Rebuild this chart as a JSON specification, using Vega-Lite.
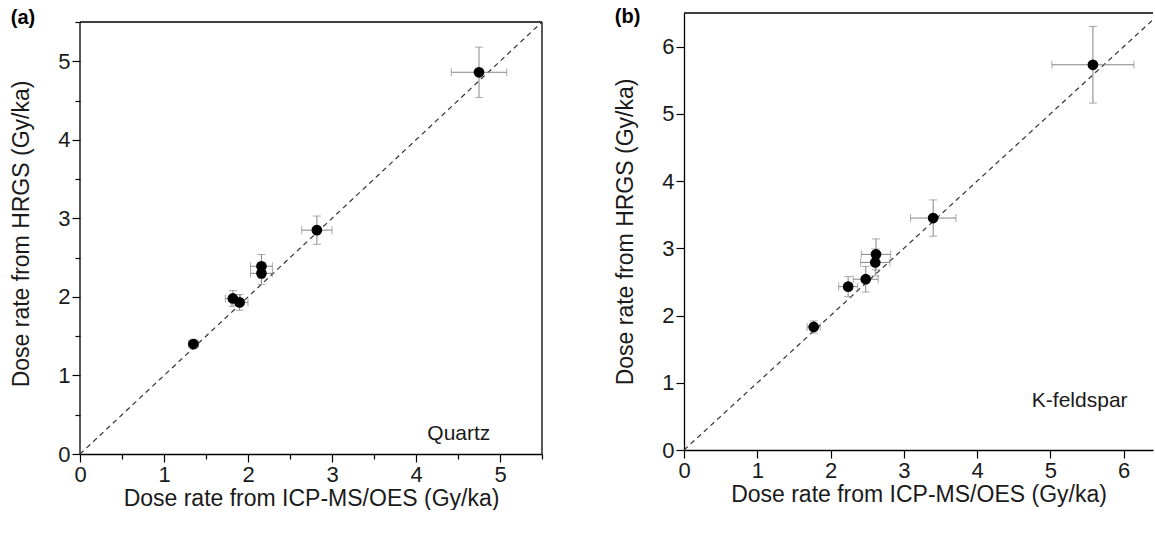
{
  "$schema": "https://vega.github.io/schema/vega-lite/v6.json",
  "background": "white",
  "padding": {"left": 10, "top": 7, "right": 0, "bottom": 0},
  "spacing": 71,
  "config": {
    "font": "Liberation Sans",
    "view": {"stroke": null},
    "axis": {
      "grid": false,
      "domainColor": "black",
      "domainWidth": 1.3,
      "tickColor": "black",
      "tickWidth": 1.2,
      "labelFont": "Liberation Sans",
      "labelFontSize": 22,
      "labelColor": "#1a1a1a",
      "labelFlush": false,
      "labelOverlap": false,
      "labelPadding": 2,
      "titleFont": "Liberation Sans",
      "titleFontSize": 23,
      "titleFontWeight": "normal",
      "titleColor": "#1a1a1a"
    },
    "axisX": {"titlePadding": 2},
    "axisY": {"titlePadding": 24},
    "title": {"fontSize": 20, "fontWeight": "bold", "anchor": "start", "frame": "bounds", "color": "black", "font": "Liberation Sans"}
  },
  "hconcat": [
    {
      "width": 462,
      "height": 441,
      "title": {"text": "(a)", "offset": -17},
      "data": {"values": [
        {"x": 1.35, "y": 1.40, "ex": 0.06, "ey": 0.06},
        {"x": 1.82, "y": 1.98, "ex": 0.09, "ey": 0.10},
        {"x": 1.90, "y": 1.93, "ex": 0.10, "ey": 0.10},
        {"x": 2.16, "y": 2.39, "ex": 0.13, "ey": 0.15},
        {"x": 2.16, "y": 2.30, "ex": 0.13, "ey": 0.14},
        {"x": 2.82, "y": 2.85, "ex": 0.18, "ey": 0.18},
        {"x": 4.75, "y": 4.86, "ex": 0.33, "ey": 0.32}
      ]},
      "layer": [
        {
          "data": {"values": [
            {"x": 0, "y": 5.5, "xEnd": 5.5, "yEnd": 5.5},
            {"x": 5.5, "y": 0, "xEnd": 5.5, "yEnd": 5.5},
            {"x": 0, "y": 0, "xEnd": 0, "yEnd": 5.5}
          ]},
          "mark": {"type": "rule", "color": "black", "strokeWidth": 1.3},
          "encoding": {
            "x": {
              "field": "x", "type": "quantitative",
              "title": "Dose rate from ICP-MS/OES (Gy/ka)",
              "scale": {"domain": [0, 5.5], "nice": false},
              "axis": {
                "title": "Dose rate from ICP-MS/OES (Gy/ka)",
                "values": [0, 0.5, 1, 1.5, 2, 2.5, 3, 3.5, 4, 4.5, 5, 5.5],
                "labelExpr": "datum.value % 1 === 0 ? format(datum.value, 'd') : ''",
                "tickSize": {"condition": {"test": "datum.value % 1 === 0", "value": 8}, "value": 5}
              }
            },
            "y": {
              "field": "y", "type": "quantitative",
              "title": "Dose rate from HRGS (Gy/ka)",
              "scale": {"domain": [0, 5.6145], "nice": false},
              "axis": {
                "title": "Dose rate from HRGS (Gy/ka)",
                "domain": false,
                "values": [0, 0.5, 1, 1.5, 2, 2.5, 3, 3.5, 4, 4.5, 5, 5.5],
                "labelExpr": "datum.value % 1 === 0 ? format(datum.value, 'd') : ''",
                "tickSize": {"condition": {"test": "datum.value % 1 === 0", "value": 8}, "value": 5}
              }
            },
            "x2": {"field": "xEnd"},
            "y2": {"field": "yEnd"}
          }
        },
        {
          "data": {"values": [{"x": 0, "y": 0, "xEnd": 5.5, "yEnd": 5.5}]},
          "mark": {"type": "rule", "strokeDash": [5, 4], "color": "#333333", "strokeWidth": 1.2},
          "encoding": {
            "x": {"field": "x", "type": "quantitative", "title": "Dose rate from ICP-MS/OES (Gy/ka)", "scale": {"domain": [0, 5.5], "nice": false}},
            "y": {"field": "y", "type": "quantitative", "title": "Dose rate from HRGS (Gy/ka)", "scale": {"domain": [0, 5.6145], "nice": false}},
            "x2": {"field": "xEnd"},
            "y2": {"field": "yEnd"}
          }
        },
        {
          "mark": {"type": "errorbar", "ticks": {"size": 8}, "color": "#858585", "thickness": 1},
          "encoding": {
            "x": {"field": "x", "type": "quantitative", "title": "Dose rate from ICP-MS/OES (Gy/ka)", "scale": {"domain": [0, 5.5], "nice": false}},
            "xError": {"field": "ex"},
            "y": {"field": "y", "type": "quantitative", "title": "Dose rate from HRGS (Gy/ka)", "scale": {"domain": [0, 5.6145], "nice": false}}
          }
        },
        {
          "mark": {"type": "errorbar", "ticks": {"size": 8}, "color": "#858585", "thickness": 1},
          "encoding": {
            "x": {"field": "x", "type": "quantitative", "title": "Dose rate from ICP-MS/OES (Gy/ka)", "scale": {"domain": [0, 5.5], "nice": false}},
            "y": {"field": "y", "type": "quantitative", "title": "Dose rate from HRGS (Gy/ka)", "scale": {"domain": [0, 5.6145], "nice": false}},
            "yError": {"field": "ey"}
          }
        },
        {
          "mark": {"type": "circle", "size": 115, "color": "black", "opacity": 1},
          "encoding": {
            "x": {"field": "x", "type": "quantitative", "title": "Dose rate from ICP-MS/OES (Gy/ka)", "scale": {"domain": [0, 5.5], "nice": false}},
            "y": {"field": "y", "type": "quantitative", "title": "Dose rate from HRGS (Gy/ka)", "scale": {"domain": [0, 5.6145], "nice": false}}
          }
        },
        {
          "data": {"values": [{"label": "Quartz", "x": 4.51, "y": 0.25}]},
          "mark": {"type": "text", "fontSize": 21, "color": "#1a1a1a", "font": "Liberation Sans"},
          "encoding": {
            "x": {"field": "x", "type": "quantitative", "title": "Dose rate from ICP-MS/OES (Gy/ka)", "scale": {"domain": [0, 5.5], "nice": false}},
            "y": {"field": "y", "type": "quantitative", "title": "Dose rate from HRGS (Gy/ka)", "scale": {"domain": [0, 5.6145], "nice": false}},
            "text": {"field": "label"}
          }
        }
      ]
    },
    {
      "width": 469,
      "height": 437,
      "title": {"text": "(b)", "offset": -15},
      "data": {"values": [
        {"x": 1.77, "y": 1.83, "ex": 0.09, "ey": 0.09},
        {"x": 2.24, "y": 2.43, "ex": 0.13, "ey": 0.15},
        {"x": 2.48, "y": 2.54, "ex": 0.17, "ey": 0.19},
        {"x": 2.61, "y": 2.79, "ex": 0.20, "ey": 0.20},
        {"x": 2.62, "y": 2.91, "ex": 0.20, "ey": 0.23},
        {"x": 3.40, "y": 3.45, "ex": 0.31, "ey": 0.27},
        {"x": 5.58, "y": 5.73, "ex": 0.56, "ey": 0.57}
      ]},
      "layer": [
        {
          "data": {"values": [{"x": 0, "y": 0, "xEnd": 6.4, "yEnd": 6.4}]},
          "mark": {"type": "rule", "strokeDash": [5, 4], "color": "#333333", "strokeWidth": 1.2},
          "encoding": {
            "x": {
              "field": "x", "type": "quantitative",
              "title": "Dose rate from ICP-MS/OES (Gy/ka)",
              "scale": {"domain": [0, 6.4], "nice": false},
              "axis": {
                "title": "Dose rate from ICP-MS/OES (Gy/ka)",
                "values": [0, 0.5, 1, 1.5, 2, 2.5, 3, 3.5, 4, 4.5, 5, 5.5, 6],
                "labelExpr": "datum.value % 1 === 0 ? format(datum.value, 'd') : ''",
                "tickSize": {"condition": {"test": "datum.value % 1 === 0", "value": 8}, "value": 5}
              }
            },
            "y": {
              "field": "y", "type": "quantitative",
              "title": "Dose rate from HRGS (Gy/ka)",
              "scale": {"domain": [0, 6.5], "nice": false},
              "axis": {
                "title": "Dose rate from HRGS (Gy/ka)",
                "values": [0, 0.5, 1, 1.5, 2, 2.5, 3, 3.5, 4, 4.5, 5, 5.5, 6, 6.5],
                "labelExpr": "datum.value % 1 === 0 ? format(datum.value, 'd') : ''",
                "tickSize": {"condition": {"test": "datum.value % 1 === 0", "value": 8}, "value": 5}
              }
            },
            "x2": {"field": "xEnd"},
            "y2": {"field": "yEnd"}
          }
        },
        {
          "data": {"values": [{"y": 6.5}]},
          "mark": {"type": "rule", "color": "black", "strokeWidth": 1.3},
          "encoding": {
            "y": {"field": "y", "type": "quantitative", "title": "Dose rate from HRGS (Gy/ka)", "scale": {"domain": [0, 6.5], "nice": false}}
          }
        },
        {
          "mark": {"type": "errorbar", "ticks": {"size": 8}, "color": "#858585", "thickness": 1},
          "encoding": {
            "x": {"field": "x", "type": "quantitative", "title": "Dose rate from ICP-MS/OES (Gy/ka)", "scale": {"domain": [0, 6.4], "nice": false}},
            "xError": {"field": "ex"},
            "y": {"field": "y", "type": "quantitative", "title": "Dose rate from HRGS (Gy/ka)", "scale": {"domain": [0, 6.5], "nice": false}}
          }
        },
        {
          "mark": {"type": "errorbar", "ticks": {"size": 8}, "color": "#858585", "thickness": 1},
          "encoding": {
            "x": {"field": "x", "type": "quantitative", "title": "Dose rate from ICP-MS/OES (Gy/ka)", "scale": {"domain": [0, 6.4], "nice": false}},
            "y": {"field": "y", "type": "quantitative", "title": "Dose rate from HRGS (Gy/ka)", "scale": {"domain": [0, 6.5], "nice": false}},
            "yError": {"field": "ey"}
          }
        },
        {
          "mark": {"type": "circle", "size": 115, "color": "black", "opacity": 1},
          "encoding": {
            "x": {"field": "x", "type": "quantitative", "title": "Dose rate from ICP-MS/OES (Gy/ka)", "scale": {"domain": [0, 6.4], "nice": false}},
            "y": {"field": "y", "type": "quantitative", "title": "Dose rate from HRGS (Gy/ka)", "scale": {"domain": [0, 6.5], "nice": false}}
          }
        },
        {
          "data": {"values": [{"label": "K-feldspar", "x": 5.4, "y": 0.73}]},
          "mark": {"type": "text", "fontSize": 21, "color": "#1a1a1a", "font": "Liberation Sans"},
          "encoding": {
            "x": {"field": "x", "type": "quantitative", "title": "Dose rate from ICP-MS/OES (Gy/ka)", "scale": {"domain": [0, 6.4], "nice": false}},
            "y": {"field": "y", "type": "quantitative", "title": "Dose rate from HRGS (Gy/ka)", "scale": {"domain": [0, 6.5], "nice": false}},
            "text": {"field": "label"}
          }
        }
      ]
    }
  ]
}
